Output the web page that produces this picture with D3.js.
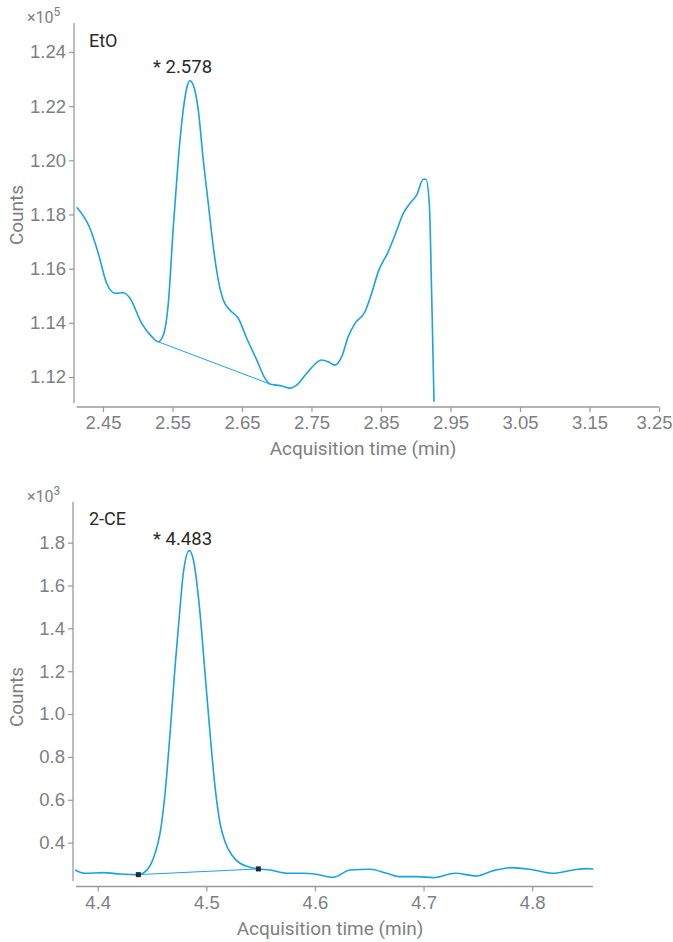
<!DOCTYPE html>
<html><head><meta charset="utf-8">
<script src="https://cdn.jsdelivr.net/npm/d3@7"></script>
<style>
html,body{margin:0;padding:0;background:#fff;}
svg{display:block;font-family:Roboto,"Noto Sans",sans-serif;}
</style></head>
<body>
<svg id="c" width="673" height="942"></svg>
<script>
// ---------- data ----------
const etoTime = [2.4122,2.4313,2.4432,2.4553,2.4673,2.4792,2.4888,2.5057,2.5201,2.5296,2.5368,2.5440,2.5512,2.5583,2.5655,2.5704,2.5752,2.5799,2.5871,2.5943,2.6015,2.6087,2.6159,2.6231,2.6327,2.6447,2.6568,2.6712,2.6831,2.6903,2.6999,2.7071,2.7191,2.7287,2.7431,2.7647,2.7742,2.7838,2.7935,2.8029,2.8126,2.8270,2.8366,2.8461,2.8605,2.8701,2.8821,2.8917,2.9014,2.9109,2.9147,2.9195,2.9229,2.9263];
const etoCounts = [1.1827,1.1749,1.1657,1.1546,1.1509,1.1511,1.1491,1.1398,1.1349,1.1330,1.1355,1.1472,1.1755,1.2001,1.2186,1.2266,1.2294,1.2278,1.2186,1.2001,1.1841,1.1681,1.1558,1.1484,1.1447,1.1417,1.1343,1.1263,1.1195,1.1174,1.1170,1.1167,1.1159,1.1170,1.1214,1.1263,1.1256,1.1244,1.1275,1.1349,1.1398,1.1441,1.1509,1.1589,1.1663,1.1724,1.1804,1.1841,1.1872,1.1930,1.1930,1.1841,1.1509,1.1109];
const etoBaseline = [[2.5296,1.1330],[2.6903,1.1174]];
const etoXTicks = [2.45,2.55,2.65,2.75,2.85,2.95,3.05,3.15,3.25];
const etoYTicks = [1.12,1.14,1.16,1.18,1.20,1.22,1.24];

const ceTime = [4.3791,4.3883,4.4052,4.4205,4.4374,4.4466,4.4528,4.4574,4.4620,4.4666,4.4712,4.4751,4.4788,4.4843,4.4887,4.4936,4.4988,4.5034,4.5080,4.5126,4.5172,4.5234,4.5310,4.5402,4.5479,4.5587,4.5740,4.5893,4.6011,4.6169,4.6323,4.6507,4.6661,4.6784,4.6937,4.7090,4.7290,4.7490,4.7643,4.7812,4.8011,4.8195,4.8380,4.8503,4.8564];
const ceCounts = [0.2726,0.2572,0.2600,0.2539,0.2507,0.2805,0.3505,0.4439,0.6305,0.9105,1.2213,1.4546,1.6571,1.7626,1.7038,1.5013,1.1905,0.9105,0.6613,0.4905,0.4047,0.3426,0.3039,0.2852,0.2773,0.2726,0.2572,0.2572,0.2525,0.2385,0.2726,0.2759,0.2572,0.2413,0.2413,0.2367,0.2572,0.2446,0.2693,0.2833,0.2726,0.2572,0.2726,0.2787,0.2773];
const ceBaseline = [[4.4374,0.2507],[4.5479,0.2773]];
const ceXTicks = [4.4,4.5,4.6,4.7,4.8];
const ceYTicks = [0.4,0.6,0.8,1.0,1.2,1.4,1.6,1.8];

// ---------- drawing ----------
const svg = d3.select("#c");
const W = 673;
const blue = "#1aa3e3";
const axisCol = "#9a9a9a";
const tickText = "#7d7f82";

function panel(o){
  const g = svg.append("g");
  const x = d3.scaleLinear().domain(o.xDomain).range(o.xRange);
  const y = d3.scaleLinear().domain(o.yDomain).range(o.yRange);

  // y axis
  const ya = g.append("g").attr("transform",`translate(${o.yAxisX},0)`)
    .call(d3.axisLeft(y).tickValues(o.yTicks).tickFormat(d3.format(o.yFmt)).tickSize(5).tickSizeOuter(0));
  ya.select(".domain").attr("stroke",axisCol).attr("stroke-width",1.3)
    .attr("d",`M0,${o.yRange[1]}V${o.yRange[0]}`);
  ya.selectAll(".tick line").attr("stroke",axisCol).attr("stroke-width",1.2);
  ya.selectAll(".tick text").attr("fill",tickText).style("font-size","18.5px").attr("x",-8);

  // x axis
  const xa = g.append("g").attr("transform",`translate(0,${o.xAxisY})`)
    .call(d3.axisBottom(x).tickValues(o.xTicks).tickFormat(d3.format(o.xFmt)).tickSize(5).tickSizeOuter(0));
  xa.select(".domain").attr("stroke",axisCol).attr("stroke-width",1.3)
    .attr("d",`M${o.xRange[0]},0H${o.xRange[1]}`);
  xa.selectAll(".tick line").attr("stroke",axisCol).attr("stroke-width",1.2);
  xa.selectAll(".tick text").attr("fill",tickText).style("font-size","18.5px").attr("y",9);
  // keep a label that would run past the page edge inside it
  xa.selectAll(".tick").each(function(d){
    const px = x(d);
    if(px + 19 > W){
      d3.select(this).select("text").attr("text-anchor","end").attr("x", W - 1 - px);
    }
  });

  // labels
  g.append("text").attr("x",o.xTitleX).attr("y",o.xAxisY+48).attr("text-anchor","middle")
    .attr("fill",tickText).style("font-size","19px").text("Acquisition time (min)");
  g.append("text").attr("transform",`translate(23,${o.yTitleY}) rotate(-90)`).attr("text-anchor","middle")
    .attr("fill",tickText).style("font-size","19px").text("Counts");
  const ex = g.append("text").attr("x",27).attr("y",o.yRange[1]).attr("fill",tickText).style("font-size","16px");
  ex.append("tspan").text("×10");
  ex.append("tspan").attr("dy",-7).style("font-size","12px").text(o.exp);
  g.append("text").attr("x",89).attr("y",o.yRange[1]+o.nameDy).attr("fill","#2a2a2a").style("font-size","18px").text(o.name);
  g.append("text").attr("x",153).attr("y",o.yRange[1]+o.peakDy).attr("fill","#2a2a2a").style("font-size","18.5px").text(o.peakLabel);

  // baseline
  g.append("line")
    .attr("x1",x(o.base[0][0])).attr("y1",y(o.base[0][1]))
    .attr("x2",x(o.base[1][0])).attr("y2",y(o.base[1][1]))
    .attr("stroke",blue).attr("stroke-width",1);

  // curve
  const pts = o.t.map((t,i)=>[t,o.v[i]]);
  const line = d3.line().x(d=>x(d[0])).y(d=>y(d[1])).curve(d3.curveMonotoneX);
  g.append("path").datum(pts).attr("d",line).attr("fill","none")
    .attr("stroke",blue).attr("stroke-width",1.6).attr("stroke-linejoin","round");

  if(o.markers){
    g.selectAll("rect.m").data(o.base).enter().append("rect")
      .attr("x",d=>x(d[0])-2.5).attr("y",d=>y(d[1])-2.5).attr("width",5).attr("height",5)
      .attr("fill","#1f2a33");
  }
}

panel({
  xDomain:[2.4122,3.25], xRange:[76.7,659],
  yDomain:[1.1104,1.2507], yRange:[403,23],
  yAxisX:74, xAxisY:407,
  yTicks:etoYTicks, yFmt:".2f", xTicks:etoXTicks, xFmt:".2f",
  xTitleX:363, yTitleY:215, exp:"5", name:"EtO", peakLabel:"* 2.578",
  nameDy:24, peakDy:50,
  t:etoTime, v:etoCounts, base:etoBaseline, markers:false
});
panel({
  xDomain:[4.380,4.856], xRange:[76,593],
  yDomain:[0.221,1.991], yRange:[881,501.7],
  yAxisX:73, xAxisY:886.5,
  yTicks:ceYTicks, yFmt:".1f", xTicks:ceXTicks, xFmt:".1f",
  xTitleX:330, yTitleY:697, exp:"3", name:"2-CE", peakLabel:"* 4.483",
  nameDy:23.5, peakDy:43.5,
  t:ceTime, v:ceCounts, base:ceBaseline, markers:true
});
</script>
</body></html>
